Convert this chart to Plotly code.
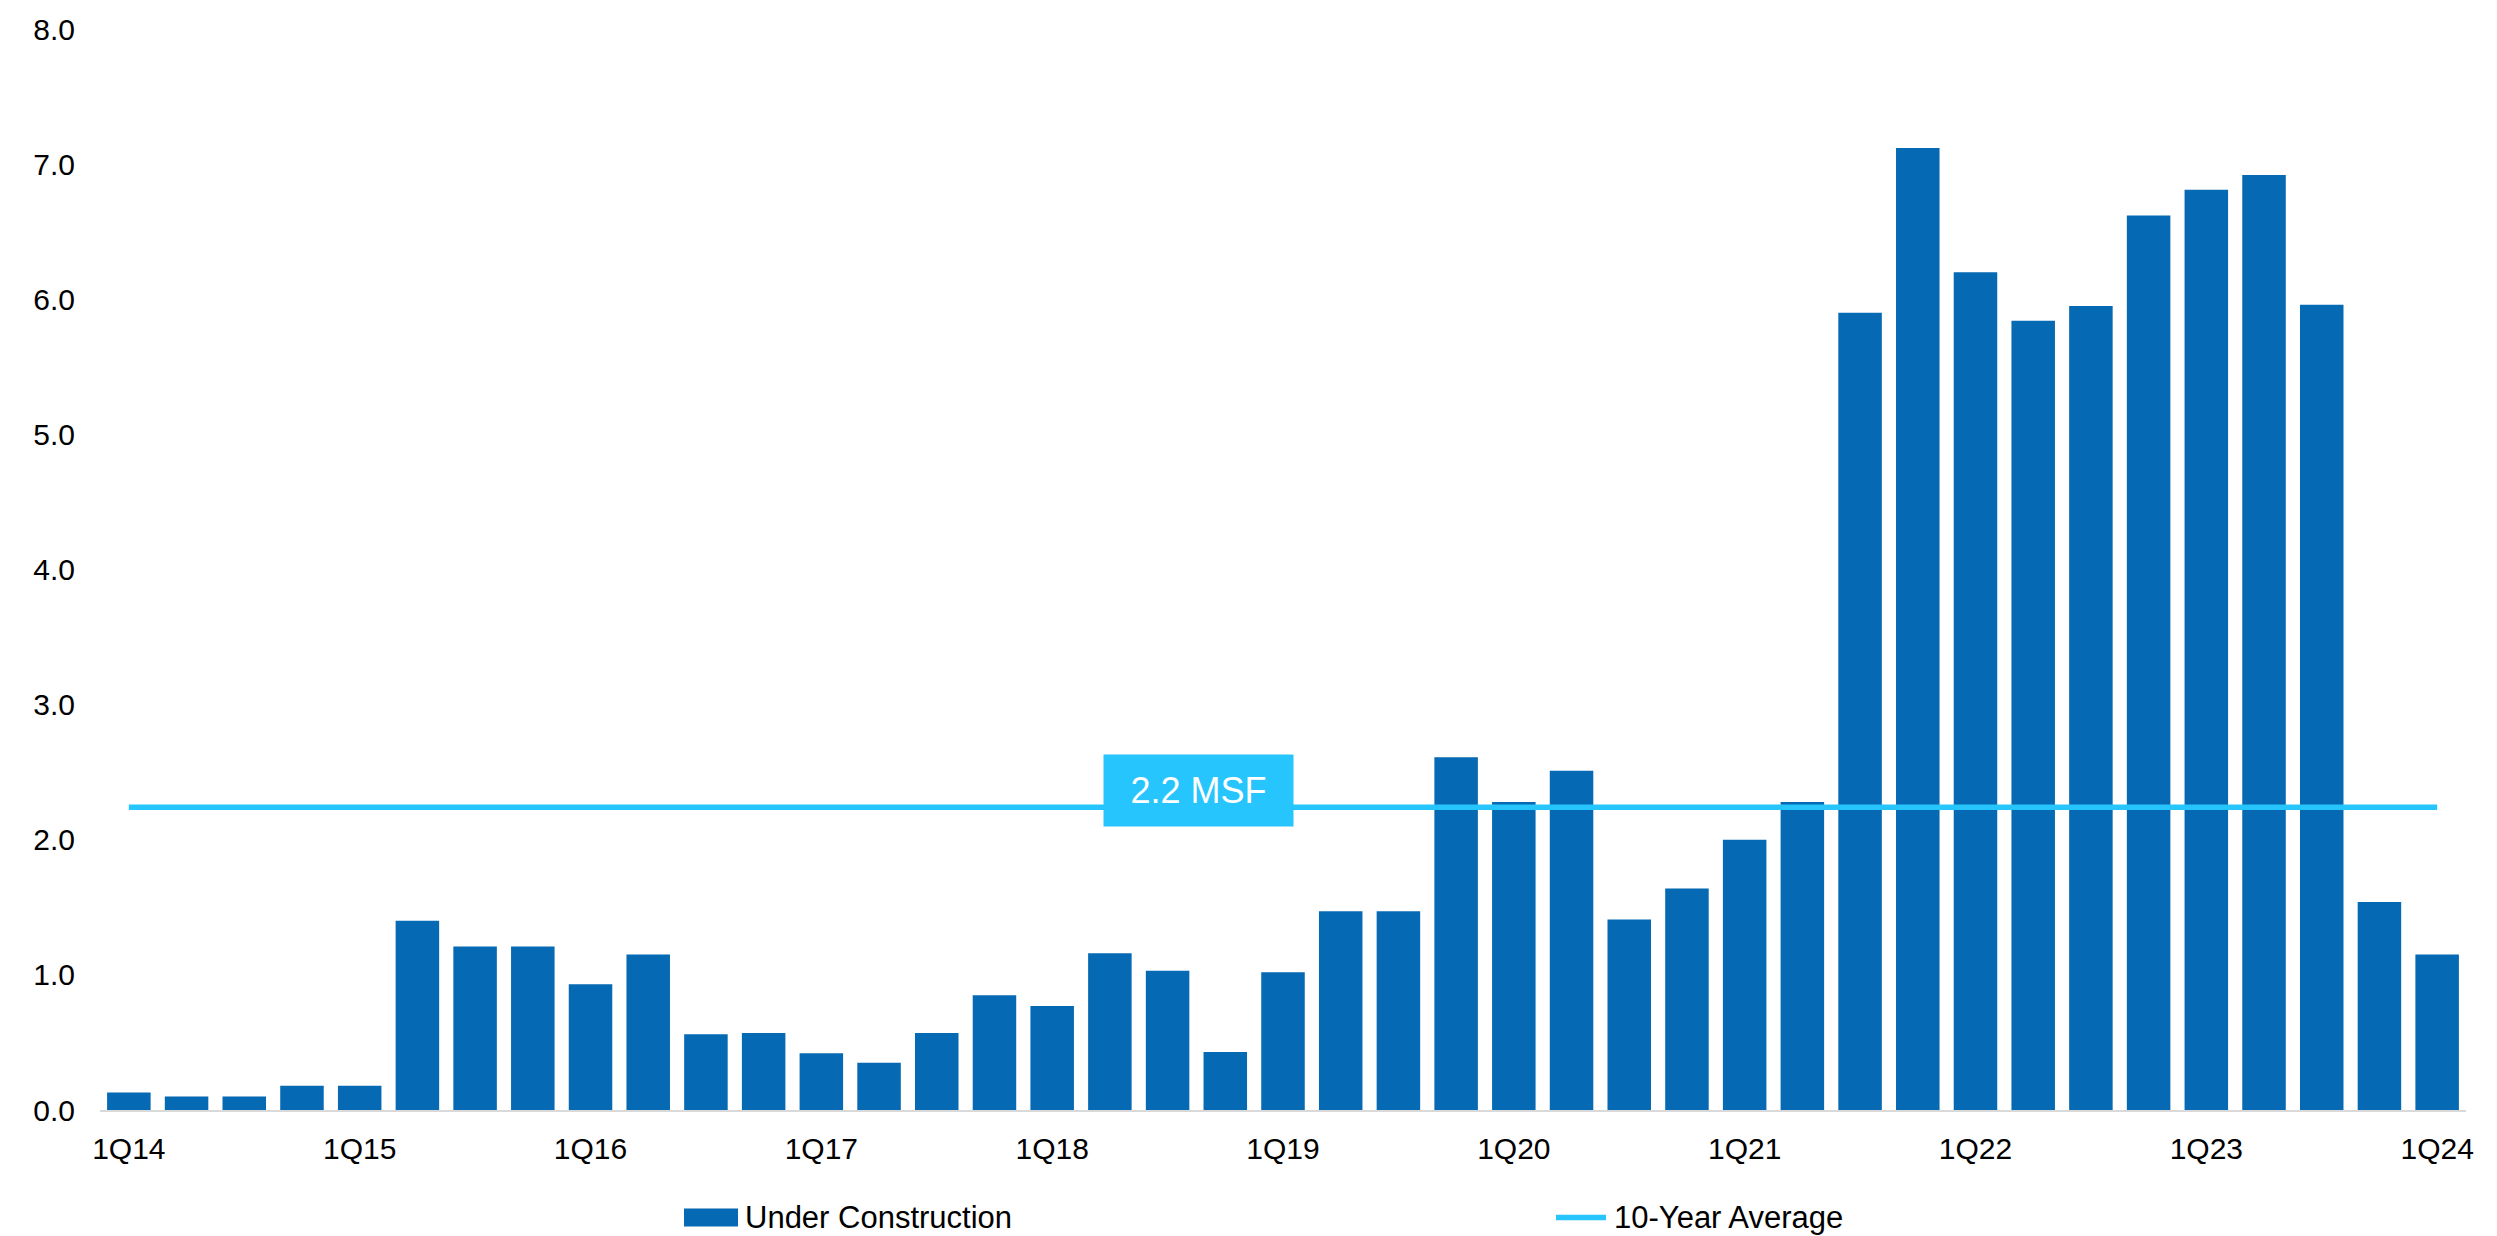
import plotly.graph_objects as go

# Quarterly office space under construction (million sq. ft.)
quarters = [
    "1Q14", "2Q14", "3Q14", "4Q14",
    "1Q15", "2Q15", "3Q15", "4Q15",
    "1Q16", "2Q16", "3Q16", "4Q16",
    "1Q17", "2Q17", "3Q17", "4Q17",
    "1Q18", "2Q18", "3Q18", "4Q18",
    "1Q19", "2Q19", "3Q19", "4Q19",
    "1Q20", "2Q20", "3Q20", "4Q20",
    "1Q21", "2Q21", "3Q21", "4Q21",
    "1Q22", "2Q22", "3Q22", "4Q22",
    "1Q23", "2Q23", "3Q23", "4Q23",
    "1Q24",
]
under_construction = [
    0.13, 0.10, 0.10, 0.18,
    0.18, 1.40, 1.21, 1.21,
    0.93, 1.15, 0.56, 0.57,
    0.42, 0.35, 0.57, 0.85,
    0.77, 1.16, 1.03, 0.43,
    1.02, 1.47, 1.47, 2.61,
    2.28, 2.51, 1.41, 1.64,
    2.00, 2.28, 5.90, 7.12,
    6.20, 5.84, 5.95, 6.62,
    6.81, 6.92, 5.96, 1.54,
    1.15,
]
ten_year_average = 2.24

tick_labels = ["1Q14", "1Q15", "1Q16", "1Q17", "1Q18", "1Q19",
               "1Q20", "1Q21", "1Q22", "1Q23", "1Q24"]
y_ticks = [0, 1, 2, 3, 4, 5, 6, 7, 8]

BAR_BLUE = "#0569B3"
AVG_CYAN = "#27C5FE"
FONT = "Liberation Sans, Arial, sans-serif"

W, H = 2497, 1236
M_L, M_R, M_T, M_B = 100, 31, 24, 126
plot_w = W - M_L - M_R
plot_h = H - M_T - M_B


def px_x(px):
    """Convert a pixel x position to paper coordinates."""
    return (px - M_L) / plot_w


def px_y(py):
    """Convert a pixel y position (from top) to paper coordinates."""
    return (H - M_B - py) / plot_h


fig = go.Figure()

fig.add_trace(go.Bar(
    x=quarters,
    y=under_construction,
    name="Under Construction",
    marker=dict(color=BAR_BLUE, line=dict(width=0)),
    showlegend=False,
))

fig.add_trace(go.Scatter(
    x=quarters,
    y=[ten_year_average] * len(quarters),
    name="10-Year Average",
    mode="lines",
    line=dict(color=AVG_CYAN, width=5.5),
    showlegend=False,
))

# Label box on the average line
fig.add_annotation(
    x=px_x(1198.5), xref="paper",
    y=ten_year_average, yref="y",
    yshift=17,
    text=f"{ten_year_average:.1f} MSF",
    showarrow=False,
    font=dict(family=FONT, size=36, color="white"),
    bgcolor=AVG_CYAN,
    width=189, height=71,
    borderpad=0,
    xanchor="center", yanchor="middle",
)

# Legend drawn below the axis
legend_y = px_y(1218)
fig.add_shape(
    type="rect", xref="paper", yref="paper",
    x0=px_x(684), x1=px_x(738), y0=px_y(1227), y1=px_y(1209),
    fillcolor=BAR_BLUE, line=dict(width=0),
)
fig.add_annotation(
    x=px_x(743), xref="paper", y=legend_y, yref="paper",
    text="Under Construction", showarrow=False,
    xanchor="left", yanchor="middle",
    font=dict(family=FONT, size=31, color="black"),
)
fig.add_shape(
    type="line", xref="paper", yref="paper",
    x0=px_x(1556), x1=px_x(1606), y0=legend_y, y1=legend_y,
    line=dict(color=AVG_CYAN, width=5.5),
)
fig.add_annotation(
    x=px_x(1612), xref="paper", y=legend_y, yref="paper",
    text="10-Year Average", showarrow=False,
    xanchor="left", yanchor="middle",
    font=dict(family=FONT, size=31, color="black"),
)

fig.update_layout(
    width=W, height=H,
    margin=dict(l=M_L, r=M_R, t=M_T, b=M_B),
    paper_bgcolor="white",
    plot_bgcolor="white",
    bargap=0.246,
    font=dict(family=FONT, size=30, color="black"),
)

fig.update_xaxes(
    type="category",
    tickmode="array",
    tickvals=tick_labels,
    ticktext=tick_labels,
    ticks="",
    showgrid=False,
    showline=True,
    linecolor="#D9D9D9",
    linewidth=2,
    zeroline=False,
    tickfont=dict(family=FONT, size=30, color="black"),
    ticklabelstandoff=11,
)

fig.update_yaxes(
    range=[0, 8],
    tickmode="array",
    tickvals=y_ticks,
    tickformat=".1f",
    ticks="",
    showgrid=False,
    showline=False,
    zeroline=False,
    tickfont=dict(family=FONT, size=30, color="black"),
    ticklabelstandoff=24,
)

fig.write_html("out.html")
